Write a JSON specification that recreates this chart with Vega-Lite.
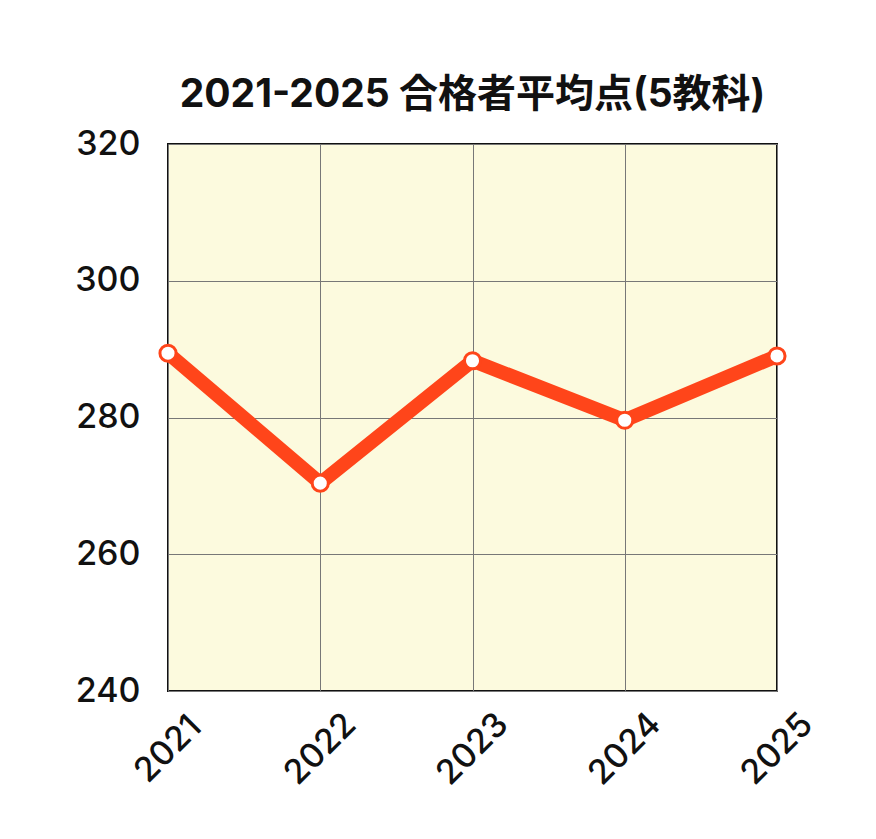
{
  "$schema": "https://vega.github.io/schema/vega-lite/v6.json",
  "autosize": {"type": "none"},
  "width": 609,
  "height": 547,
  "padding": {"left": 168, "top": 144, "right": 99, "bottom": 148},
  "background": "white",
  "title": {
    "text": "2021-2025 合格者平均点(5教科)",
    "font": "Inter, Noto Sans CJK JP",
    "fontSize": 39,
    "fontWeight": "bold",
    "color": "#111111",
    "anchor": "middle",
    "offset": 12
  },
  "config": {
    "view": {"fill": "#FCFADE", "stroke": "#111111", "strokeWidth": 2}
  },
  "data": {
    "values": [
      {"year": "2021", "score": 289.4},
      {"year": "2022", "score": 270.4},
      {"year": "2023", "score": 288.3},
      {"year": "2024", "score": 279.6},
      {"year": "2025", "score": 289.0}
    ]
  },
  "encoding": {
    "x": {
      "field": "year",
      "type": "ordinal",
      "scale": {"type": "point", "padding": 0},
      "axis": {
        "title": null,
        "domain": false,
        "ticks": false,
        "tickSize": 0,
        "grid": true,
        "gridColor": "#777777",
        "gridWidth": 1,
        "labelAngle": -45,
        "labelAlign": "center",
        "labelBaseline": "middle",
        "labelPadding": 58,
        "labelFont": "Inter",
        "labelFontSize": 34,
        "labelFontWeight": 500,
        "labelColor": "#111111"
      }
    },
    "y": {
      "field": "score",
      "type": "quantitative",
      "scale": {"domain": [240, 320], "nice": false, "zero": false},
      "axis": {
        "title": null,
        "values": [240, 260, 280, 300, 320],
        "domain": false,
        "ticks": false,
        "tickSize": 0,
        "grid": true,
        "gridColor": "#777777",
        "gridWidth": 1,
        "labelPadding": 28,
        "labelFont": "Inter",
        "labelFontSize": 34,
        "labelFontWeight": 500,
        "labelColor": "#111111"
      }
    }
  },
  "layer": [
    {
      "mark": {"type": "line", "color": "#FF451A", "strokeWidth": 14, "strokeJoin": "miter", "strokeCap": "butt"}
    },
    {
      "mark": {"type": "point", "shape": "circle", "filled": true, "fill": "white", "stroke": "#FF451A", "strokeWidth": 3, "size": 260, "opacity": 1}
    }
  ]
}
